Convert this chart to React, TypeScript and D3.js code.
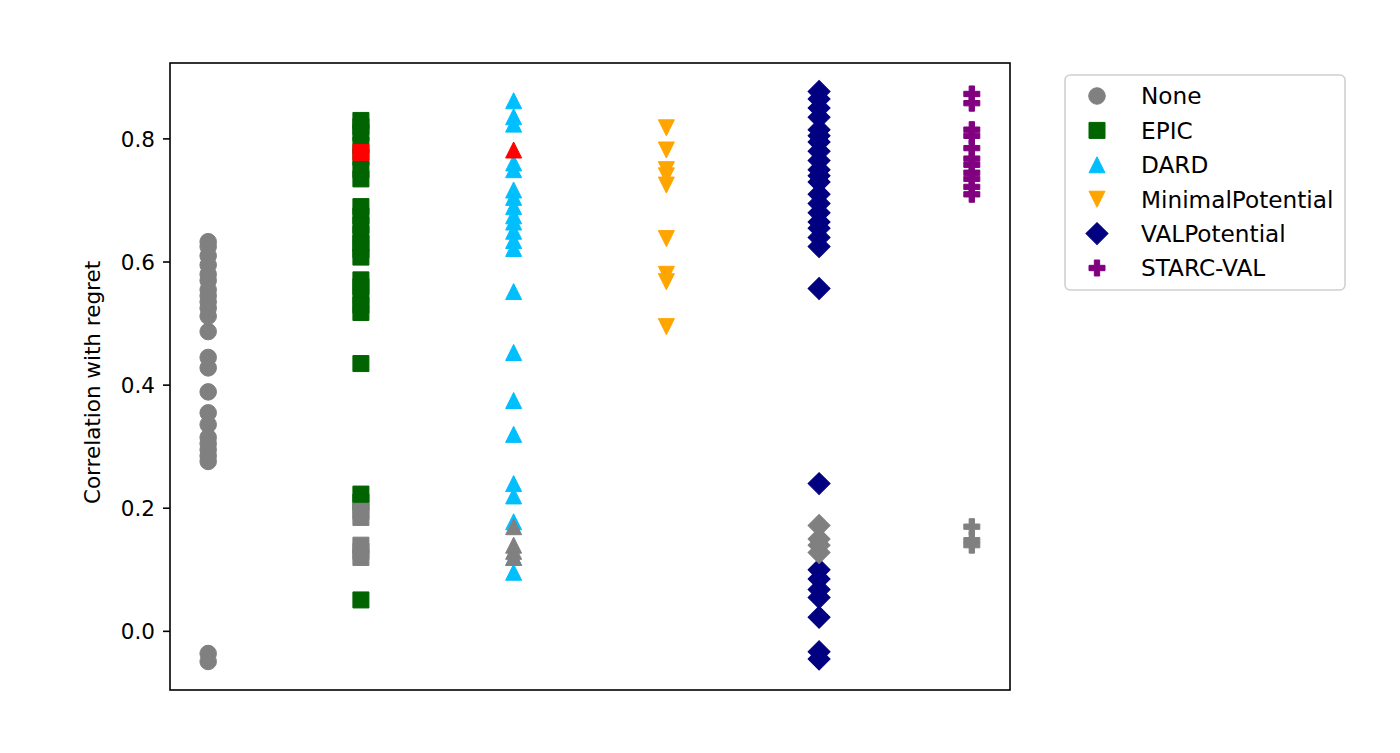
import * as d3 from "d3";

const WIDTH = 1400;
const HEIGHT = 753;
const PLOT = { left: 170, right: 1010, top: 63, bottom: 690 };

const categories = ["None", "EPIC", "DARD", "MinimalPotential", "VALPotential", "STARC-VAL"];
const colors = ["#808080", "#006400", "#00bfff", "#ffa500", "#000080", "#800080"];
const shapes = ["circle", "square", "triangleUp", "triangleDown", "diamond", "plus"];

// main values per category
const noneVals = [0.633, 0.625, 0.61, 0.595, 0.58, 0.57, 0.555, 0.545, 0.535, 0.525, 0.512, 0.487, 0.445, 0.428, 0.389, 0.355, 0.336, 0.315, 0.305, 0.295, 0.285, 0.276, -0.036, -0.049];
const epicVals = [0.83, 0.82, 0.81, 0.79, 0.77, 0.75, 0.735, 0.69, 0.675, 0.66, 0.645, 0.63, 0.62, 0.608, 0.571, 0.56, 0.545, 0.53, 0.518, 0.435, 0.223, 0.21, 0.051];
const dardVals = [0.862, 0.836, 0.824, 0.761, 0.75, 0.717, 0.705, 0.69, 0.675, 0.665, 0.65, 0.635, 0.622, 0.552, 0.453, 0.375, 0.32, 0.24, 0.22, 0.178, 0.12, 0.096];
const minimalVals = [0.818, 0.782, 0.75, 0.74, 0.725, 0.638, 0.58, 0.568, 0.495];
const valVals = [0.877, 0.865, 0.85, 0.835, 0.815, 0.805, 0.795, 0.78, 0.765, 0.75, 0.74, 0.73, 0.71, 0.695, 0.68, 0.665, 0.655, 0.64, 0.625, 0.557, 0.24, 0.1, 0.085, 0.068, 0.055, 0.023, -0.033, -0.045];
const starcVals = [0.873, 0.858, 0.815, 0.805, 0.785, 0.768, 0.758, 0.745, 0.735, 0.722, 0.71];

// grey (baseline) and red (highlighted) points drawn in each column's marker
const greyVals = [[], [0.195, 0.185, 0.14, 0.13, 0.12], [0.17, 0.14, 0.13, 0.12], [], [0.172, 0.15, 0.14, 0.128], [0.17, 0.148, 0.14]];
const redVals = [[], [0.778], [0.782], [], [], []];

const allVals = [noneVals, epicVals, dardVals, minimalVals, valVals, starcVals];
const yTicks = [0.0, 0.2, 0.4, 0.6, 0.8];

const markerPath = (shape: string) => {
  switch (shape) {
    case "circle":
      return d3.symbol(d3.symbolCircle, 215)()!;
    case "square":
      return d3.symbol(d3.symbolSquare, 256)()!;
    case "diamond":
      return d3.symbol(d3.symbolSquare, 242)()!;
    case "plus":
      return d3.symbol(d3.symbolCross, 142)()!;
    case "triangleUp":
      return "M0,-8L8,8L-8,8Z";
    case "triangleDown":
      return "M0,8L8,-8L-8,-8Z";
  }
  return "";
};

const Marker = ({ shape, x, y, fill }: { shape: string; x: number; y: number; fill: string }) => (
  <path
    d={markerPath(shape)}
    transform={`translate(${x},${y})${shape === "diamond" ? " rotate(45)" : ""}`}
    fill={fill}
    stroke={fill}
    strokeWidth={1}
  />
);

export default function App() {
  const flat = allVals.flat().concat(greyVals.flat());
  const [lo, hi] = d3.extent(flat) as [number, number];
  const pad = (hi - lo) * 0.05;

  const x = d3.scalePoint().domain(categories).range([PLOT.left, PLOT.right]).padding(0.25);
  const y = d3.scaleLinear().domain([lo - pad, hi + pad]).range([PLOT.bottom, PLOT.top]);

  const font = "DejaVu Sans, sans-serif";

  return (
    <svg width={WIDTH} height={HEIGHT} style={{ position: "absolute", left: 0, top: 0, background: "#fff" }}>
      <rect width={WIDTH} height={HEIGHT} fill="#fff" />
      {categories.map((c, i) =>
        allVals[i].map((v, j) => (
          <Marker key={`m-${c}-${j}`} shape={shapes[i]} x={x(c)!} y={y(v)} fill={colors[i]} />
        ))
      )}
      {categories.map((c, i) =>
        greyVals[i].map((v, j) => (
          <Marker key={`g-${c}-${j}`} shape={shapes[i]} x={x(c)!} y={y(v)} fill="#808080" />
        ))
      )}
      {categories.map((c, i) =>
        redVals[i].map((v, j) => (
          <Marker key={`r-${c}-${j}`} shape={shapes[i]} x={x(c)!} y={y(v)} fill="#ff0000" />
        ))
      )}

      {/* frame */}
      <rect
        x={PLOT.left}
        y={PLOT.top}
        width={PLOT.right - PLOT.left}
        height={PLOT.bottom - PLOT.top}
        fill="none"
        stroke="#000"
        strokeWidth={1.6}
      />

      {/* y axis */}
      {yTicks.map((t) => (
        <g key={t} transform={`translate(${PLOT.left},${y(t)})`}>
          <line x1={0} x2={-7} stroke="#000" strokeWidth={1.6} />
          <text x={-15} dy="0.36em" textAnchor="end" fontSize={21.5} fontFamily={font}>
            {t.toFixed(1)}
          </text>
        </g>
      ))}
      <text
        transform={`translate(100,${(PLOT.top + PLOT.bottom) / 2 + 6}) rotate(-90)`}
        textAnchor="middle"
        fontSize={21.5}
        fontFamily={font}
      >
        Correlation with regret
      </text>

      {/* legend */}
      <g>
        <rect x={1065} y={75} width={280} height={215} rx={5} fill="#fff" fillOpacity={0.8} stroke="#d0d0d0" strokeWidth={1.6} />
        {categories.map((c, i) => (
          <g key={`l-${c}`}>
            <Marker shape={shapes[i]} x={1097} y={96 + i * 34.4} fill={colors[i]} />
            <text x={1141} y={96 + i * 34.4} dy="0.36em" fontSize={23.2} fontFamily={font}>
              {c}
            </text>
          </g>
        ))}
      </g>
    </svg>
  );
}
